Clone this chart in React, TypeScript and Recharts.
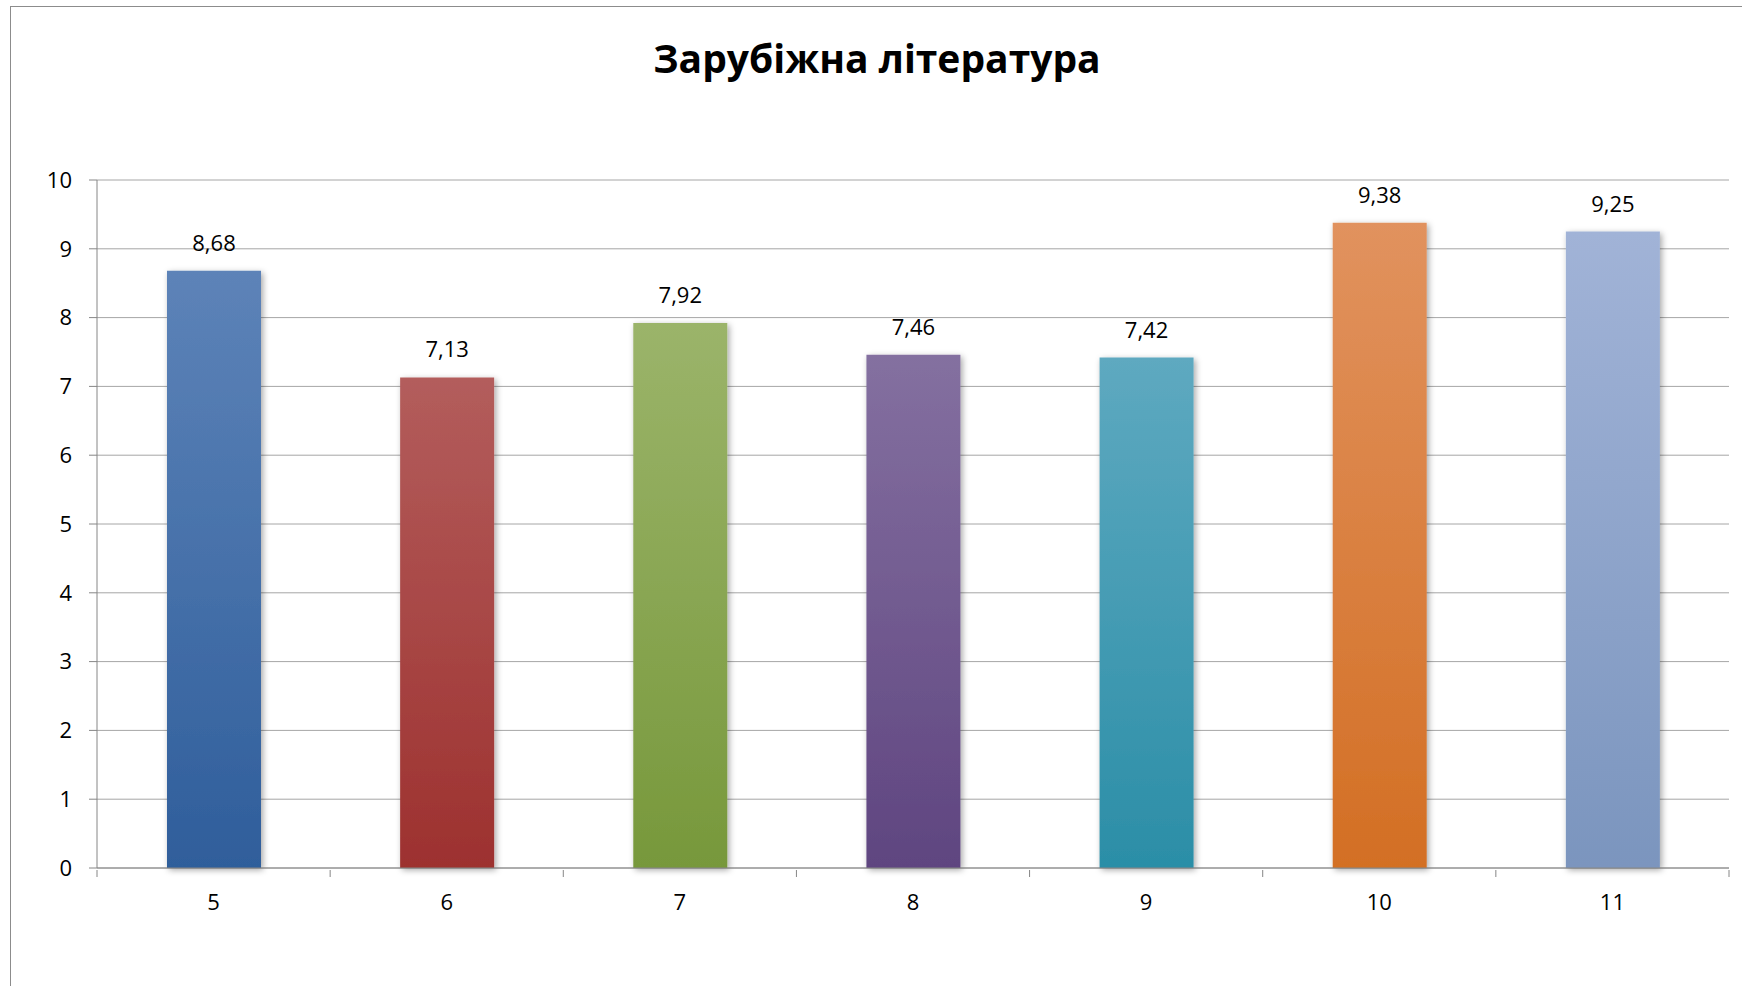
import { BarChart, Bar, Cell, XAxis, YAxis, CartesianGrid, LabelList } from "recharts";

const TITLE = "Зарубіжна література";
const grades = ["5", "6", "7", "8", "9", "10", "11"];
const scores = [8.68, 7.13, 7.92, 7.46, 7.42, 9.38, 9.25];
const yTicks = [0, 1, 2, 3, 4, 5, 6, 7, 8, 9, 10];

// top / bottom colours of each bar's gradient
const topColors = ["#5d83b8", "#b35d5c", "#9bb46a", "#8470a0", "#5ea9c0", "#e1925e", "#a1b3d7"];
const bottomColors = ["#2f5e9b", "#9d312f", "#77983b", "#5f4580", "#2b8ea7", "#d36f24", "#7b95be"];

const W = 1742;
const H = 986;
const FONT = "'Open Sans', 'Noto Sans', sans-serif";
const Y_AXIS_W = 97;
const RIGHT = 13;
const bandW = (W - Y_AXIS_W - RIGHT) / grades.length;

const data = grades.map((g, i) => ({ grade: g, score: scores[i] }));

const XTick = (props: any) => {
  const { x, y, payload, index } = props;
  const last = index === grades.length - 1;
  return (
    <g>
      <line x1={x - bandW / 2} x2={x - bandW / 2} y1={y} y2={y + 7} stroke="#868686" />
      {last && <line x1={x + bandW / 2} x2={x + bandW / 2} y1={y} y2={y + 7} stroke="#868686" />}
      <text x={x} y={y + 40} textAnchor="middle" fill="#000" fontSize={22} fontFamily={FONT}>
        {payload.value}
      </text>
    </g>
  );
};

export default function App() {
  return (
    <div style={{ position: "absolute", left: 0, top: 0, width: W, height: H, overflow: "hidden", background: "#fff" }}>
      <div style={{ position: "absolute", left: 10, top: 6, width: 3000, height: 3000, borderLeft: "1px solid #8c8c8c", borderTop: "1px solid #8c8c8c" }} />
      <svg width={W} height={120} style={{ position: "absolute", left: 0, top: 0 }}>
        <text x={877} y={73} textAnchor="middle" fontSize={39} fontWeight="bold" fontFamily={FONT} fill="#000">
          {TITLE}
        </text>
      </svg>
      <div style={{ position: "absolute", left: 0, top: 0 }}>
        <BarChart width={W} height={H} data={data} margin={{ top: 180, right: RIGHT, left: 0, bottom: 0 }}>
          <defs>
            {topColors.map((c, i) => (
              <linearGradient key={i} id={`bar${i}`} x1="0" y1="0" x2="0" y2="1">
                <stop offset="0%" stopColor={c} />
                <stop offset="100%" stopColor={bottomColors[i]} />
              </linearGradient>
            ))}
            <filter id="shadow" x="-20%" y="-5%" width="140%" height="110%">
              <feDropShadow dx="2" dy="2" stdDeviation="3" floodColor="#000" floodOpacity="0.35" />
            </filter>
          </defs>
          <CartesianGrid vertical={false} stroke="#a6a6a6" />
          <XAxis
            dataKey="grade"
            height={H - 868}
            tickSize={0}
            tickLine={false}
            axisLine={{ stroke: "#868686" }}
            tick={<XTick />}
            interval={0}
          />
          <YAxis
            width={Y_AXIS_W}
            domain={[0, 10]}
            ticks={yTicks}
            interval={0}
            tickSize={8}
            tickMargin={17}
            axisLine={{ stroke: "#868686" }}
            tickLine={{ stroke: "#868686" }}
            tick={{ fill: "#000", fontSize: 22, fontFamily: FONT }}
          />
          <Bar dataKey="score" barSize={94} isAnimationActive={false}>
            {data.map((_, i) => (
              <Cell key={i} fill={`url(#bar${i})`} filter="url(#shadow)" />
            ))}
            <LabelList
              dataKey="score"
              position="top"
              offset={20}
              fill="#000"
              fontSize={22}
              fontFamily={FONT}
              formatter={(v: any) => String(v).replace(".", ",")}
            />
          </Bar>
        </BarChart>
      </div>
    </div>
  );
}
